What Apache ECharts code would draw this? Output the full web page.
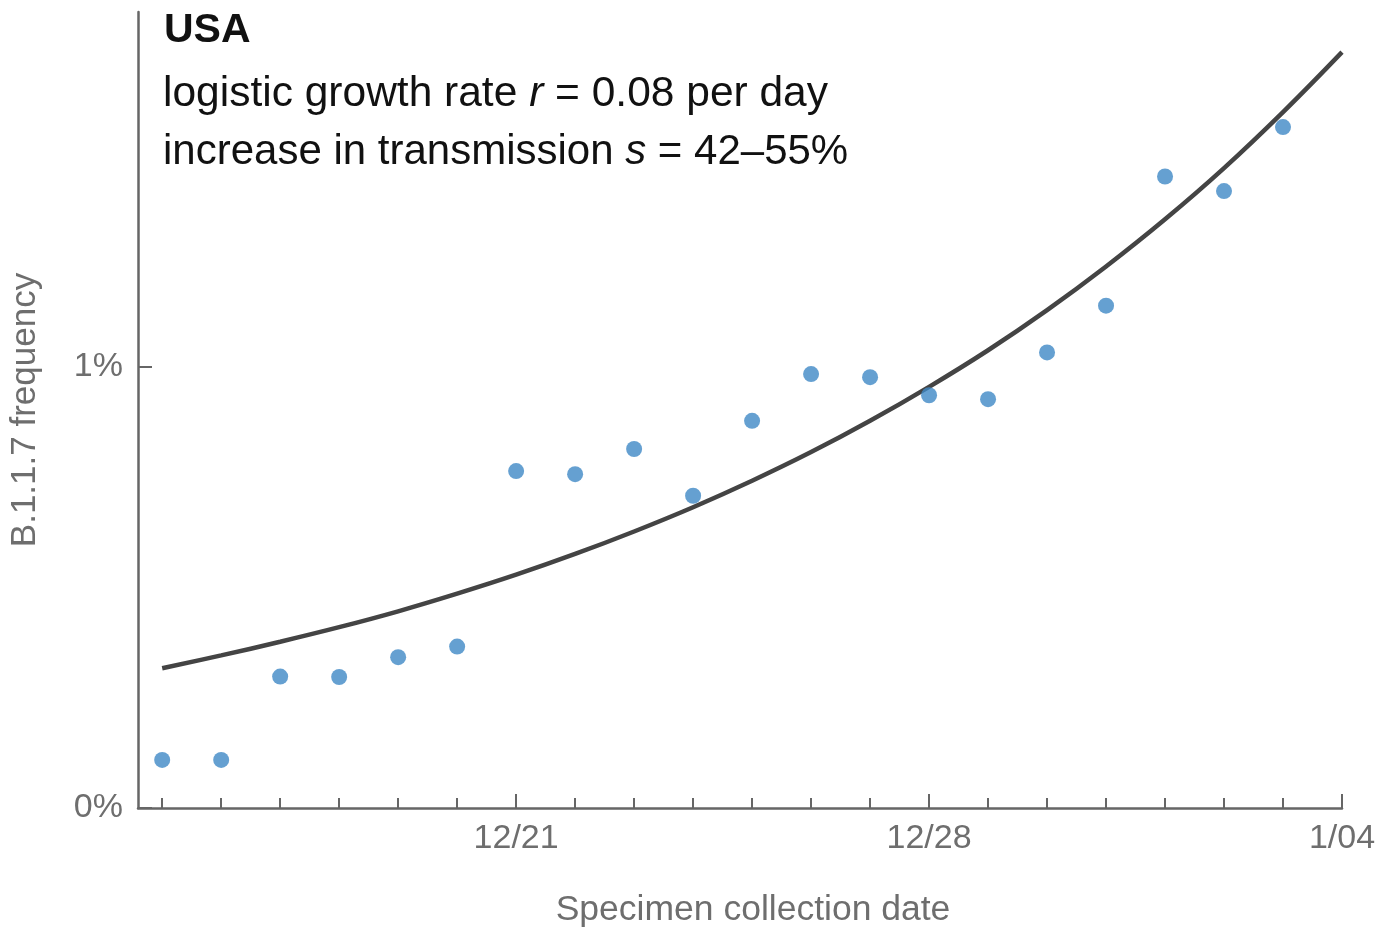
<!DOCTYPE html>
<html>
<head>
<meta charset="utf-8">
<script src="https://cdn.jsdelivr.net/npm/echarts@6/dist/echarts.min.js"></script>
<style>
html,body{margin:0;padding:0;background:#fff;}
#chart{width:1395px;height:928px;}
</style>
</head>
<body>
<div id="chart"></div>
<script>
// Specimen collection dates (one per day)
const dates = ['12/15','12/16','12/17','12/18','12/19','12/20','12/21','12/22','12/23','12/24',
               '12/25','12/26','12/27','12/28','12/29','12/30','12/31','1/01','1/02','1/03','1/04'];
// Observed B.1.1.7 frequency (%) per day, 12/15 .. 1/03
const observed = [0.109,0.109,0.298,0.297,0.342,0.366,0.764,0.757,0.814,0.708,
                  0.878,0.984,0.977,0.936,0.927,1.033,1.139,1.432,1.399,1.544];
// Logistic fit curve (%) read at each day, 12/15 .. 1/04
const fitted = [0.317,0.346,0.377,0.410,0.446,0.486,0.529,0.576,0.627,0.682,
                0.742,0.807,0.878,0.955,1.038,1.129,1.228,1.335,1.451,1.578,1.714];
// Labelled x ticks
const xTickLabels = ['12/21','12/28','1/04'];
// Y ticks
const yTickValues = [0, 1];
const yTickLabels = ['0%','1%'];

const titleLines = ['USA', 'logistic growth rate ', 'r', ' = 0.08 per day', 'increase in transmission ', 's', ' = 42\u201355%'];

const FONT = '"Liberation Sans", Arial, Helvetica, sans-serif';
const GRAY = '#6e6e6e';
const AXIS = '#666666';

const xIdx = dates.map((d, i) => i);
const xLabelIdx = xTickLabels.map(l => dates.indexOf(l));

const chart = echarts.init(document.getElementById('chart'), null, {renderer: 'canvas'});
chart.setOption({
  animation: false,
  backgroundColor: '#ffffff',
  grid: {left: 138, right: 53, top: 12, bottom: 120, containLabel: false, outerBoundsMode: 'none'},
  xAxis: [{
    type: 'value', min: -0.41, max: 20,
    axisLine: {show: true, onZero: false, lineStyle: {color: AXIS, width: 2.5}},
    axisTick: {show: true, inside: true, length: 10, customValues: xIdx, lineStyle: {color: AXIS, width: 2}},
    axisLabel: {show: false},
    splitLine: {show: false}
  }, {
    type: 'value', min: -0.41, max: 20, position: 'bottom',
    axisLine: {show: false, onZero: false},
    axisTick: {show: true, inside: true, length: 14, customValues: xLabelIdx, lineStyle: {color: AXIS, width: 2}},
    axisLabel: {
      show: true, customValues: xLabelIdx, margin: 14,
      formatter: v => dates[Math.round(v)],
      color: GRAY, fontSize: 34, fontFamily: FONT
    },
    splitLine: {show: false},
    name: 'Specimen collection date', nameLocation: 'middle', nameGap: 84,
    nameTextStyle: {color: GRAY, fontSize: 35.5, fontFamily: FONT, padding: [0, 0, 0, 26]}
  }],
  yAxis: {
    type: 'value', min: 0, max: 1.805,
    axisLine: {show: true, onZero: false, lineStyle: {color: AXIS, width: 2.5}},
    axisTick: {show: true, inside: true, length: 14, customValues: yTickValues, lineStyle: {color: AXIS, width: 2}},
    axisLabel: {
      show: true, customValues: yTickValues, margin: 15,
      formatter: v => yTickLabels[yTickValues.indexOf(Math.round(v))],
      color: GRAY, fontSize: 34, fontFamily: FONT
    },
    splitLine: {show: false},
    name: 'B.1.1.7 frequency', nameLocation: 'middle', nameGap: 95,
    nameTextStyle: {color: GRAY, fontSize: 35, fontFamily: FONT}
  },
  graphic: [
    {type: 'text', left: 164, top: 10, z: 10,
     style: {text: titleLines[0], font: 'bold 41px ' + FONT, fill: '#111'}},
    {type: 'text', left: 163, top: 73, z: 10,
     style: {
       text: '{a|' + titleLines[1] + '}{i|' + titleLines[2] + '}{a|' + titleLines[3] + '}',
       rich: {
         a: {fontSize: 42.5, fontFamily: FONT, fill: '#111', color: '#111'},
         i: {fontSize: 42.5, fontFamily: FONT, fontStyle: 'italic', fill: '#111', color: '#111'}
       }
     }},
    {type: 'text', left: 163, top: 131, z: 10,
     style: {
       text: '{a|' + titleLines[4] + '}{i|' + titleLines[5] + '}{a|' + titleLines[6] + '}',
       rich: {
         a: {fontSize: 42, fontFamily: FONT, fill: '#111', color: '#111'},
         i: {fontSize: 42, fontFamily: FONT, fontStyle: 'italic', fill: '#111', color: '#111'}
       }
     }}
  ],
  series: [{
    type: 'line', xAxisIndex: 0,
    data: fitted.map((v, i) => [xIdx[i], v]),
    smooth: 0.4, showSymbol: false, symbol: 'none',
    lineStyle: {color: '#444444', width: 4.5},
    z: 2
  }, {
    type: 'scatter', xAxisIndex: 0,
    data: observed.map((v, i) => [xIdx[i], v]),
    symbol: 'circle', symbolSize: 16,
    itemStyle: {color: '#3f88c5'},
    z: 3
  }]
});
</script>
</body>
</html>
